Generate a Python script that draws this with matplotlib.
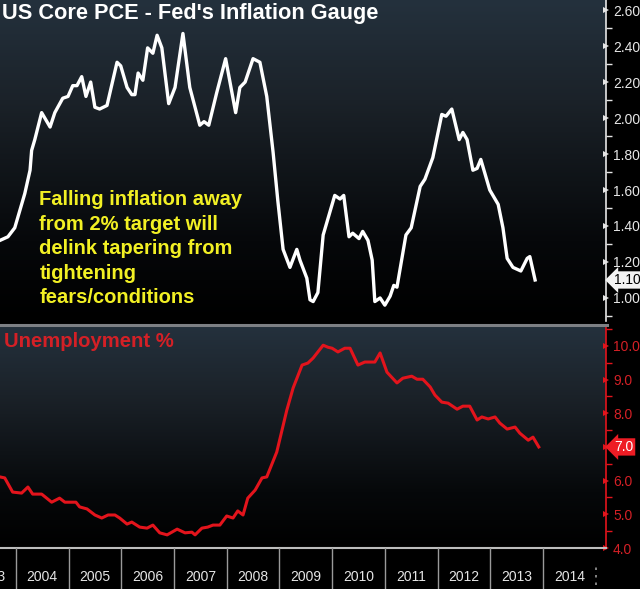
import numpy as np
import matplotlib
matplotlib.use("Agg")
import matplotlib.pyplot as plt
from matplotlib.colors import LinearSegmentedColormap
from matplotlib.lines import Line2D
import matplotlib.transforms as mtrans

# ---------------- data ----------------
pce_dates = [2003.70, 2003.85, 2003.98, 2004.11, 2004.17, 2004.27, 2004.30, 2004.36, 2004.49,
             2004.65, 2004.74, 2004.89, 2004.99, 2005.08, 2005.16, 2005.25, 2005.33, 2005.42,
             2005.50, 2005.59, 2005.73, 2005.92, 2005.99, 2006.11, 2006.20, 2006.26, 2006.32,
             2006.41, 2006.50, 2006.60, 2006.68, 2006.77, 2006.90, 2007.02, 2007.17, 2007.30,
             2007.49, 2007.57, 2007.66, 2007.81, 2007.98, 2008.17, 2008.25, 2008.35, 2008.50,
             2008.63, 2008.76, 2008.88, 2008.97, 2009.07, 2009.20, 2009.33, 2009.39, 2009.52,
             2009.58, 2009.64, 2009.73, 2009.83, 2010.05, 2010.15, 2010.22, 2010.32, 2010.39,
             2010.51, 2010.58, 2010.68, 2010.76, 2010.81, 2010.91, 2011.00, 2011.10, 2011.17,
             2011.23, 2011.40, 2011.50, 2011.67, 2011.76, 2011.91, 2012.08, 2012.16, 2012.27,
             2012.41, 2012.48, 2012.56, 2012.67, 2012.75, 2012.82, 2012.99, 2013.15, 2013.24,
             2013.32, 2013.43, 2013.58, 2013.70, 2013.75, 2013.85]
pce_vals = [1.32, 1.34, 1.39, 1.52, 1.58, 1.71, 1.82, 1.88, 2.03,
            1.95, 2.03, 2.11, 2.12, 2.18, 2.18, 2.23, 2.12, 2.20,
            2.06, 2.05, 2.07, 2.31, 2.29, 2.17, 2.13, 2.13, 2.25,
            2.21, 2.39, 2.36, 2.46, 2.39, 2.08, 2.17, 2.47, 2.17,
            1.96, 1.98, 1.96, 2.14, 2.33, 2.03, 2.17, 2.20, 2.33,
            2.31, 2.12, 1.81, 1.54, 1.27, 1.17, 1.27, 1.21, 1.11,
            0.99, 0.98, 1.03, 1.35, 1.57, 1.55, 1.57, 1.34, 1.36,
            1.33, 1.37, 1.32, 1.21, 0.98, 1.00, 0.96, 1.01, 1.07,
            1.06, 1.35, 1.39, 1.62, 1.66, 1.78, 2.02, 2.01, 2.05,
            1.88, 1.92, 1.88, 1.71, 1.72, 1.77, 1.60, 1.52, 1.39,
            1.22, 1.17, 1.15, 1.22, 1.23, 1.10]

unemp_dates = [2003.70, 2003.79, 2003.94, 2004.11, 2004.23, 2004.32, 2004.49, 2004.68, 2004.83,
               2004.93, 2005.02, 2005.14, 2005.21, 2005.35, 2005.50, 2005.63, 2005.75, 2005.88,
               2005.97, 2006.11, 2006.20, 2006.35, 2006.49, 2006.60, 2006.73, 2006.87, 2006.96,
               2007.06, 2007.21, 2007.34, 2007.40, 2007.53, 2007.64, 2007.74, 2007.87, 2008.00,
               2008.12, 2008.21, 2008.31, 2008.40, 2008.54, 2008.67, 2008.76, 2008.95, 2009.14,
               2009.26, 2009.43, 2009.54, 2009.64, 2009.83, 2009.92, 2010.00, 2010.11, 2010.24,
               2010.34, 2010.49, 2010.62, 2010.81, 2010.91, 2011.04, 2011.23, 2011.34, 2011.51,
               2011.61, 2011.72, 2011.86, 2011.95, 2012.08, 2012.20, 2012.37, 2012.48, 2012.61,
               2012.75, 2012.84, 2012.96, 2013.09, 2013.18, 2013.32, 2013.47, 2013.56, 2013.72,
               2013.81, 2013.92]
unemp_vals = [6.11, 6.08, 5.66, 5.63, 5.81, 5.60, 5.60, 5.36, 5.48,
              5.36, 5.36, 5.36, 5.22, 5.16, 4.98, 4.89, 4.98, 4.98,
              4.89, 4.71, 4.77, 4.62, 4.59, 4.68, 4.45, 4.39, 4.47,
              4.56, 4.45, 4.47, 4.39, 4.59, 4.62, 4.68, 4.68, 4.95,
              4.89, 5.10, 4.98, 5.48, 5.72, 6.08, 6.11, 6.85, 8.09,
              8.75, 9.43, 9.49, 9.64, 10.02, 9.96, 9.93, 9.82, 9.93,
              9.93, 9.43, 9.52, 9.52, 9.79, 9.22, 8.90, 9.04, 9.10,
              9.01, 9.01, 8.78, 8.54, 8.33, 8.30, 8.12, 8.21, 8.21,
              7.80, 7.89, 7.83, 7.89, 7.71, 7.53, 7.59, 7.41, 7.20,
              7.29, 7.00]

years = [2003, 2004, 2005, 2006, 2007, 2008, 2009, 2010, 2011, 2012, 2013, 2014]
pce_ticks = [1.00, 1.20, 1.40, 1.60, 1.80, 2.00, 2.20, 2.40, 2.60]
unemp_ticks = [4.0, 5.0, 6.0, 7.0, 8.0, 9.0, 10.0]
pce_last = "1.10"
unemp_last = "7.0"

title = "US Core PCE - Fed's Inflation Gauge"
note = "Falling inflation away\nfrom 2% target will\ndelink tapering from\ntightening\nfears/conditions"
unemp_title = "Unemployment %"

# ---------------- layout ----------------
W, H = 640, 589
fig = plt.figure(figsize=(W / 100, H / 100), dpi=100, facecolor="black")

XMIN, XMAX = 2003.70, 2015.195
right = 606 / W

ax1 = fig.add_axes([0, 1 - 321 / H, right, 321 / H])
ax2 = fig.add_axes([0, 41 / H, right, 222 / H])
ax3 = fig.add_axes([0, 0, right, 41 / H])

# row 0 is drawn at the top: lighter slate at top, black at bottom
grad = np.linspace(1, 0, 256).reshape(-1, 1)
cmap_bg = LinearSegmentedColormap.from_list(
    "bg", [(0.0, "#000000"), (0.25, "#06080a"), (0.69, "#1b2229"), (1.0, "#24313d")])

WHITE = "#e6e6e6"
RED = "#e3141c"
RED_TXT = "#d42026"
SANS = ["Liberation Sans", "DejaVu Sans"]

for ax in (ax1, ax2):
    ax.set_facecolor("black")
    ax.imshow(grad, extent=[0, 1, 0, 1], transform=ax.transAxes, aspect="auto",
              cmap=cmap_bg, vmin=0, vmax=1, zorder=0, interpolation="bicubic")
    ax.set_xlim(XMIN, XMAX)
    for s in ("top", "left", "bottom"):
        ax.spines[s].set_visible(False)
    ax.tick_params(axis="x", bottom=False, labelbottom=False)
    ax.yaxis.tick_right()

# top panel
ax1.set_ylim(0.872, 2.656)
ax1.plot(pce_dates, pce_vals, color="white", lw=2.4, zorder=3)
ax1.spines["right"].set_color(WHITE)
ax1.spines["right"].set_linewidth(1.2)
ax1.set_yticks(pce_ticks)
ax1.set_yticklabels([f"{v:.2f}" for v in pce_ticks])
ax1.set_yticks([v + 0.1 for v in pce_ticks[:-1]] + [0.9], minor=True)
ax1.tick_params(axis="y", which="major", length=0, pad=5, labelsize=10, labelcolor=WHITE)
ax1.tick_params(axis="y", which="minor", length=4, width=1, color=WHITE, direction="out")
for lab in ax1.get_yticklabels():
    lab.set_family(SANS)
tr1 = mtrans.blended_transform_factory(ax1.transAxes, ax1.transData)
ax1.plot([1.0] * len(pce_ticks), pce_ticks, ls="none", marker=">", ms=5, mew=0,
         color=WHITE, transform=tr1, clip_on=False, zorder=5)
ax1.annotate(pce_last, xy=(1.0, pce_vals[-1]), xycoords=tr1, xytext=(6, 0),
             textcoords="offset points", ha="left", va="center", fontsize=10, color="black",
             family=SANS,
             bbox=dict(boxstyle="larrow,pad=0.12", fc="#f2f2f2", ec="none"),
             annotation_clip=False, zorder=6)

ax1.text(0.003, 0.99, title, transform=ax1.transAxes, ha="left", va="top",
         fontsize=15.7, fontweight="bold", color="white", family=SANS)
ax1.text(0.065, 0.408, note, transform=ax1.transAxes, ha="left", va="top",
         fontsize=14.5, fontweight="bold", color="#f2f024", linespacing=1.37, family=SANS)

# bottom panel
ax2.set_ylim(4.0, 10.59)
ax2.plot(unemp_dates, unemp_vals, color=RED, lw=2.2, zorder=3)
ax2.spines["right"].set_color(RED)
ax2.spines["right"].set_linewidth(1.2)
ax2.set_yticks(unemp_ticks)
ax2.set_yticklabels([f"{v:.1f}" for v in unemp_ticks])
ax2.set_yticks([v + 0.5 for v in unemp_ticks], minor=True)
ax2.tick_params(axis="y", which="major", length=0, pad=5, labelsize=10, labelcolor=RED_TXT)
ax2.tick_params(axis="y", which="minor", length=4, width=1, color=RED, direction="out")
for lab in ax2.get_yticklabels():
    lab.set_family(SANS)
tr2 = mtrans.blended_transform_factory(ax2.transAxes, ax2.transData)
ax2.plot([1.0] * len(unemp_ticks), unemp_ticks, ls="none", marker=">", ms=5, mew=0,
         color=RED, transform=tr2, clip_on=False, zorder=5)
ax2.annotate(unemp_last, xy=(1.0, unemp_vals[-1]), xycoords=tr2, xytext=(6, 0),
             textcoords="offset points", ha="left", va="center", fontsize=10, color="white",
             family=SANS,
             bbox=dict(boxstyle="larrow,pad=0.12", fc="#ee1c24", ec="none"),
             annotation_clip=False, zorder=6)
ax2.text(0.006, 0.975, unemp_title, transform=ax2.transAxes, ha="left", va="top",
         fontsize=14.6, fontweight="bold", color=RED_TXT, family=SANS)

# year label strip
ax3.set_facecolor("black")
ax3.set_xlim(XMIN, XMAX)
ax3.set_ylim(0, 1)
ax3.axis("off")
ax3.axhline(1.0, color="#bdbdbd", lw=1.5, clip_on=False)
for y in years:
    ax3.text(y + 0.5, 0.3, str(y), ha="center", va="center", fontsize=10, color=WHITE,
             family=["Liberation Sans Narrow", "Liberation Sans", "DejaVu Sans"], clip_on=True)
    if y + 1 <= 2014:
        ax3.plot([y + 1, y + 1], [0, 1], color="#9a9a9a", lw=1)
ax3.plot([2015, 2015], [0.1, 0.6], color="#9a9a9a", lw=1.2, ls=(0, (1.5, 3)))

# separator between panels
fig.add_artist(Line2D([0, right + 0.002], [1 - 324.5 / H] * 2, transform=fig.transFigure,
                      color="#7d8084", lw=2.2))

fig.savefig("out.png", dpi=100, facecolor="black")
